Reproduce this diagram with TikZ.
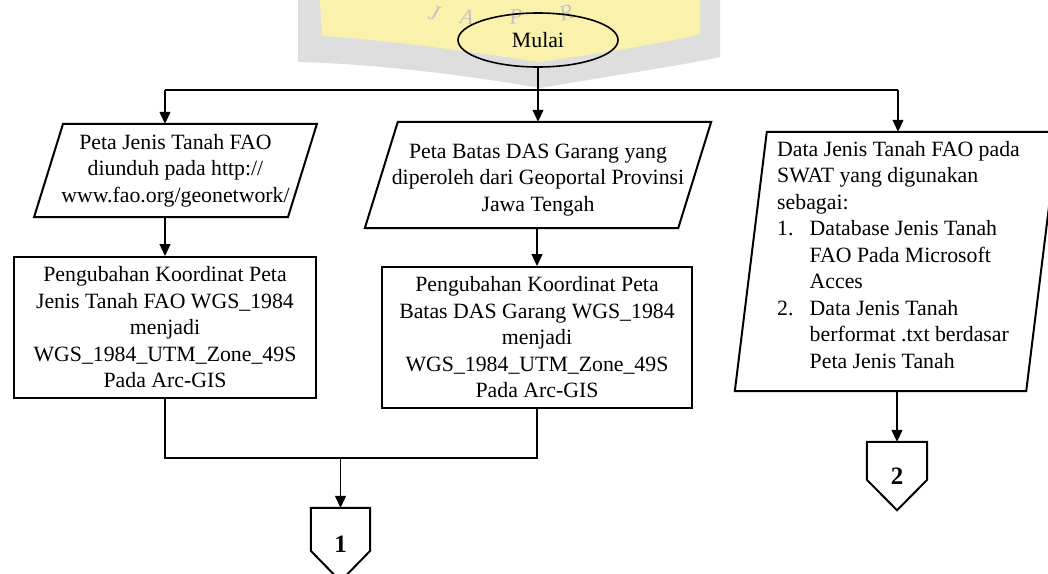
\documentclass[tikz,border=0pt]{standalone}
\usepackage{fontspec}
\setmainfont{Liberation Serif}
\usetikzlibrary{arrows.meta,shapes.geometric}
\definecolor{crestyellow}{RGB}{250,241,172}
\definecolor{crestgray}{RGB}{222,222,222}
\definecolor{crestletter}{RGB}{196,196,196}
\begin{document}
\begin{tikzpicture}[x=1pt,y=-1pt,
  txt/.style={font=\fontsize{21.8}{26.5}\selectfont, inner sep=0pt, align=center},
  shell/.style={inner sep=0pt},
  box/.style={draw, line width=2pt, txt},
  outline/.style={line width=2pt, line join=miter},
  link/.style={line width=1.3pt},
  arr/.style={link, -{Triangle[length=12pt,width=11pt]}},
  numfont/.style={font=\fontsize{25}{25}\selectfont\bfseries},
  crest/.style={font=\fontsize{22}{22}\selectfont\itshape, text=crestletter, inner sep=0pt},
]
\useasboundingbox (0,0) rectangle (1048,573);
\clip (0,0) rectangle (1048,573);

% faint crest in the background
\fill[crestgray] (298,0) -- (298,62) .. controls (380,64) and (470,76) .. (540,88)
  .. controls (610,76) and (690,64) .. (720,57) -- (720,0) -- cycle;
\fill[crestyellow] (320,0) -- (322,36) .. controls (390,40) and (470,52) .. (540,62)
  .. controls (610,52) and (680,40) .. (700,34) -- (700,0) -- cycle;
\node[crest, rotate=-18] (crestJ) at (434,13) {J};
\node[crest, rotate=-7] (crestA) at (467,17) {A};
\node[crest, rotate=6] (crestP) at (516,17) {P};
\node[crest, rotate=16] (crestR) at (566,13) {R};

% start
\node[draw, ellipse, line width=1.6pt, minimum width=160pt, minimum height=54pt, txt] (start) at (538,40) {Mulai};

% input parallelograms
\node[shell, txt, minimum width=253.5pt, minimum height=93pt] (p1) at (175.5,170.5)
  {Peta Jenis Tanah FAO\\diunduh pada http://\\www.fao.org/geonetwork/};
\draw[outline] ([xshift=14.5pt]p1.north west) -- ([xshift=14.5pt]p1.north east)
  -- ([xshift=-14.5pt]p1.south east) -- ([xshift=-14.5pt]p1.south west) -- cycle;

\node[shell, minimum width=313pt, minimum height=106pt] (p2) at (538,175) {};
\draw[outline] ([xshift=16.5pt]p2.north west) -- ([xshift=16.5pt]p2.north east)
  -- ([xshift=-16.5pt]p2.south east) -- ([xshift=-16.5pt]p2.south west) -- cycle;
\node[txt] (p2text) at (538,180)
  {Peta Batas DAS Garang yang\\diperoleh dari Geoportal Provinsi\\Jawa Tengah};

\node[shell, minimum width=291pt, minimum height=259pt] (p3) at (896.5,261.5) {};
\draw[outline] ([xshift=16pt]p3.north west) -- ([xshift=16pt]p3.north east)
  -- ([xshift=-16pt]p3.south east) -- ([xshift=-16pt]p3.south west) -- cycle;
\node[txt, align=left, anchor=north west] (p3text) at (777,141)
  {Data Jenis Tanah FAO pada\\
   SWAT yang digunakan\\
   sebagai:\\
   \makebox[32.5pt][l]{1.}Database Jenis Tanah\\
   \hspace*{32.5pt}FAO Pada Microsoft\\
   \hspace*{32.5pt}Acces\\
   \makebox[32.5pt][l]{2.}Data Jenis Tanah\\
   \hspace*{32.5pt}berformat .txt berdasar\\
   \hspace*{32.5pt}Peta Jenis Tanah};

% process boxes
\node[box, minimum width=302pt, minimum height=141pt] (r1) at (165,327.5)
  {Pengubahan Koordinat Peta\\Jenis Tanah FAO WGS\_1984\\menjadi\\WGS\_1984\_UTM\_Zone\_49S\\Pada Arc-GIS};
\node[box, minimum width=310pt, minimum height=141pt] (r2) at (537,337.5)
  {Pengubahan Koordinat Peta\\Batas DAS Garang WGS\_1984\\menjadi\\WGS\_1984\_UTM\_Zone\_49S\\Pada Arc-GIS};

% off-page connectors
\node[shell, numfont, minimum width=59pt, minimum height=73pt] (c1) at (340.5,544.5) {1};
\draw[outline] (c1.north west) -- (c1.north east) -- ([yshift=-43pt]c1.north east)
  -- (c1.south) -- ([yshift=-43pt]c1.north west) -- cycle;
\node[shell, numfont, minimum width=60pt, minimum height=68pt] (c2) at (897,476) {2};
\draw[outline] (c2.north west) -- (c2.north east) -- ([yshift=-38pt]c2.north east)
  -- (c2.south) -- ([yshift=-38pt]c2.north west) -- cycle;

% flow lines
\coordinate (busL) at (165,90);
\coordinate (busR) at (898,90);
\draw[link] (start.south) -- (start.south |- busL);
\draw[link] (busL) -- (busR);
\draw[arr] (busL) -- (busL |- p1.north);
\draw[arr] (start.south |- busL) -- (start.south |- p2.north);
\draw[arr] (busR) -- (busR |- p3.north);
\draw[arr] (r1.north |- p1.south) -- (r1.north);
\draw[arr] (r2.north |- p2.south) -- (r2.north);
\draw[link] (r1.south) -- ++(0,59) coordinate (join) -- (join -| r2.south) -- (r2.south);
\draw[arr] (join -| c1.north) -- (c1.north);
\draw[arr] (c2.north |- p3.south) -- (c2.north);
\end{tikzpicture}
\end{document}
